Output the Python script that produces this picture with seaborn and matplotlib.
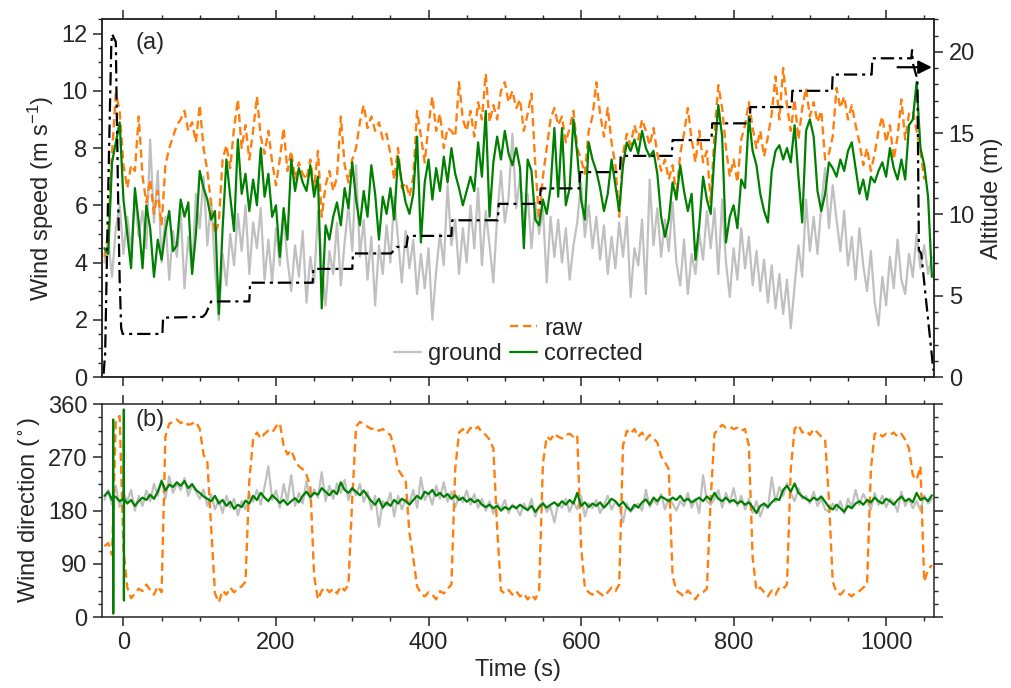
import numpy as np
import pandas as pd
import matplotlib
matplotlib.use("Agg")
import matplotlib.pyplot as plt
from matplotlib.lines import Line2D
from matplotlib.ticker import MultipleLocator
import seaborn as sns

time_s = np.arange(-25, 1061, 5)

# wind speed (m/s)
ground_speed = [
    4.0, 4.8, 3.5, 5.2, 6.0, 4.3, 5.6, 4.4, 6.3, 4.9, 5.8, 4.5, 8.3, 5.4, 7.2, 4.0, 5.6, 3.4, 5.1, 4.2,
    5.8, 3.1, 4.9, 3.7, 6.4, 5.2, 7.0, 4.6, 6.2, 3.8, 2.0, 4.3, 3.2, 5.0, 3.9, 5.7, 4.4, 6.0, 3.6, 5.4,
    4.5, 5.9, 3.4, 4.8, 3.3, 5.2, 3.9, 5.6, 4.1, 3.0, 4.6, 3.5, 5.1, 2.6, 4.2, 3.3, 5.8, 3.9, 2.5, 4.4,
    3.6, 5.4, 3.2, 4.7, 6.0, 4.4, 7.4, 4.2, 5.5, 3.4, 4.9, 2.5, 4.6, 3.6, 5.3, 4.0, 6.3, 4.8, 3.3, 5.1,
    3.8, 4.8, 2.9, 4.3, 3.1, 4.5, 2.0, 3.7, 5.0, 3.9, 6.7, 4.6, 5.5, 3.6, 5.2, 4.0, 6.0, 4.5, 6.6, 3.9,
    5.8, 4.6, 3.3, 5.6, 7.2, 5.4, 6.3, 8.5, 5.9, 7.0, 5.3, 6.4, 4.5, 6.1, 5.0, 5.9, 3.3, 5.6, 4.2, 5.5,
    4.0, 5.2, 3.4, 4.6, 5.4, 6.8, 4.9, 6.0, 4.5, 5.6, 4.1, 5.3, 3.6, 4.9, 3.8, 5.4, 4.2, 5.6, 2.8, 4.5,
    3.9, 5.5, 2.9, 6.9, 4.6, 5.9, 4.2, 5.5, 4.4, 6.1, 4.0, 3.2, 4.8, 2.9, 4.3, 3.6, 5.0, 4.1, 5.8, 4.5,
    5.9, 3.6, 6.2, 4.0, 2.8, 4.5, 3.4, 5.2, 3.8, 4.9, 3.2, 4.4, 3.0, 4.1, 2.6, 3.9, 2.4, 3.6, 2.2, 3.4,
    1.7, 3.2, 4.6, 3.5, 6.2, 4.4, 5.6, 4.3, 6.0, 7.3, 5.2, 6.7, 5.5, 4.4, 5.8, 3.9, 4.9, 3.4, 5.2, 3.9,
    3.0, 4.4, 2.6, 1.8, 3.5, 2.5, 4.2, 3.1, 4.8, 3.4, 2.9, 4.3, 3.5, 5.0, 3.8, 4.6, 3.6, 4.2,
]
raw_speed = [
    4.2, 5.0, 7.8, 9.9, 9.3, 7.4, 6.6, 7.4, 7.2, 9.1, 7.0, 6.1, 6.9, 5.7, 6.5, 5.3, 7.4, 8.0, 8.4, 8.8,
    9.0, 9.3, 8.6, 8.9, 8.2, 9.5, 8.0, 7.2, 6.0, 5.0, 5.4, 7.6, 8.1, 7.3, 8.7, 9.7, 8.0, 8.8, 7.6, 8.6,
    9.8, 8.4, 7.8, 8.6, 7.5, 6.7, 7.6, 8.7, 7.2, 7.9, 6.9, 7.5, 7.1, 6.9, 7.6, 6.6, 7.9, 5.6, 6.7, 7.2,
    6.5, 7.0, 9.1, 7.4, 6.8, 7.6, 8.0, 8.9, 9.5, 8.7, 9.1, 8.6, 8.9, 8.3, 8.5, 7.8, 6.9, 8.0, 6.6, 6.8,
    6.3, 7.0, 9.3, 8.4, 7.5, 8.8, 9.8, 8.6, 9.2, 8.0, 8.7, 8.6, 8.4, 10.3, 9.0, 8.6, 9.3, 8.4, 9.6, 9.0,
    10.6, 8.9, 9.5, 9.0, 10.0, 10.3, 9.6, 10.0, 9.4, 9.7, 8.6, 9.2, 9.9, 7.4, 5.5, 7.0, 8.0, 9.0, 9.4, 8.8,
    9.1, 8.2, 8.7, 9.3, 8.0, 7.6, 7.1, 8.6, 9.1, 10.3, 9.2, 8.4, 9.4, 8.2, 7.4, 5.6, 7.8, 8.5, 8.1, 8.8,
    8.3, 9.0, 8.6, 8.1, 8.7, 7.8, 7.2, 7.6, 6.9, 7.4, 6.3, 7.8, 8.5, 9.4, 8.3, 7.5, 8.6, 7.5, 7.9, 6.1,
    8.5, 10.2, 9.4, 8.0, 7.0, 7.6, 6.8, 8.3, 8.8, 9.6, 8.7, 8.0, 8.6, 7.7, 8.4, 9.2, 10.5, 9.0, 10.8, 9.5,
    8.6, 9.7, 8.3, 9.4, 10.1, 9.1, 9.6, 8.9, 9.3, 7.6, 7.8, 8.4, 10.1, 9.4, 9.8, 9.0, 9.5, 8.8, 8.2, 7.4,
    8.0, 7.2, 7.8, 8.6, 9.1, 8.2, 8.8, 7.6, 8.4, 9.7, 8.3, 9.2, 9.3, 8.6, 7.9, 6.9, np.nan, np.nan,
]
corrected_speed = [
    4.5, 4.3, 7.5, 8.2, 8.9, 6.2, 5.0, 3.8, 6.6, 5.4, 3.8, 6.0, 5.2, 3.5, 4.8, 4.1, 5.1, 5.8, 4.4, 4.6,
    6.2, 5.6, 6.1, 3.6, 5.0, 7.2, 6.6, 6.2, 5.5, 5.8, 2.2, 5.2, 7.6, 6.3, 5.1, 8.3, 6.4, 7.1, 5.8, 6.9,
    6.0, 8.0, 6.3, 7.1, 5.6, 6.0, 4.2, 5.9, 4.8, 7.6, 6.5, 7.3, 6.8, 6.5, 7.4, 6.3, 7.0, 2.4, 5.3, 4.8,
    5.6, 6.1, 5.3, 6.6, 5.9, 7.5, 6.2, 5.3, 6.5, 5.6, 7.4, 6.4, 4.8, 6.3, 5.7, 6.6, 5.5, 7.7, 6.8, 6.1,
    5.7, 6.4, 8.4, 4.7, 6.8, 7.6, 6.2, 7.3, 6.5, 7.7, 6.8, 8.0, 7.1, 6.6, 6.0, 6.5, 7.0, 6.5, 8.2, 7.0,
    9.3, 5.6, 7.5, 8.4, 7.6, 8.6, 7.8, 7.4, 8.0, 7.3, 4.5, 7.6, 7.2, 5.5, 5.3, 6.2, 5.7, 6.6, 8.7, 6.3,
    8.7, 6.0, 6.6, 9.0, 7.8, 6.2, 5.5, 8.2, 7.6, 7.2, 6.6, 5.8, 6.4, 7.6, 6.7, 5.8, 7.4, 8.2, 7.9, 8.3,
    7.8, 8.6, 8.0, 7.7, 7.9, 7.1, 5.6, 4.9, 5.5, 6.8, 6.2, 7.4, 6.5, 5.8, 6.4, 4.1, 5.3, 7.0, 6.2, 5.7,
    7.8, 9.5, 8.4, 4.7, 5.6, 6.0, 5.2, 6.9, 6.6, 9.1, 7.9, 7.4, 6.4, 5.8, 5.4, 7.2, 7.9, 8.1, 7.6, 8.0,
    7.5, 8.8, 7.0, 5.4, 8.6, 9.0, 8.4, 6.5, 5.8, 6.4, 7.5, 7.3, 7.0, 7.6, 7.2, 7.9, 8.2, 7.3, 6.4, 6.9,
    6.2, 7.0, 6.8, 7.2, 7.5, 7.0, 8.0, 7.3, 6.9, 7.6, 6.9, 8.8, 9.0, 10.3, 8.0, 7.4, 6.3, 3.5,
]

# wind direction (deg)
ground_dir = [
    198, 215, 190, 222, 186, 210, 196, 215, 180, 205, 188, 214, 196, 225, 205, 232, 200, 238, 210, 226,
    215, 235, 205, 224, 212, 200, 216, 188, 208, 182, 198, 176, 205, 185, 200, 172, 196, 182, 208, 195,
    215, 190, 220, 255, 198, 214, 185, 225, 196, 240, 188, 210, 192, 230, 198, 216, 202, 245, 196, 222,
    200, 226, 210, 232, 198, 218, 206, 225, 195, 212, 182, 205, 153, 196, 188, 210, 170, 205, 182, 200,
    192, 215, 185, 236, 198, 210, 190, 222, 200, 228, 195, 212, 186, 205, 194, 214, 190, 208, 185, 200,
    180, 196, 175, 192, 182, 198, 176, 190, 185, 172, 192, 180, 200, 170, 188, 195, 178, 186, 160, 192,
    185, 200, 178, 196, 182, 205, 170, 192, 184, 198, 176, 190, 205, 182, 195, 188, 160, 192, 178, 185,
    192, 180, 215, 186, 198, 190, 208, 182, 200, 192, 180, 196, 188, 210, 185, 200, 176, 240, 196, 190,
    200, 215, 185, 210, 192, 218, 188, 205, 182, 200, 176, 196, 170, 190, 184, 236, 195, 220, 205, 226,
    210, 196, 218, 200, 205, 192, 212, 188, 200, 182, 178, 192, 180, 196, 175, 200, 186, 215, 190, 208,
    196, 182, 210, 190, 205, 186, 200, 195, 178, 212, 188, 200, 184, 196, 180, 206, 192, 200,
]
raw_dir = [
    120, 125, 105, 334, 340, 115, 50, 32, 40, 48, 44, 55, 46, 38, 52, 42, 305, 327, 330, 334,
    328, 331, 325, 327, 330, 318, 275, 262, 150, 40, 25, 45, 38, 50, 42, 48, 52, 60, 230, 300,
    312, 302, 310, 315, 312, 322, 328, 290, 275, 282, 265, 255, 250, 240, 222, 70, 30, 45, 50, 42,
    48, 40, 52, 45, 55, 200, 322, 330, 326, 322, 318, 320, 315, 318, 312, 308, 285, 250, 240, 232,
    142, 100, 52, 40, 35, 42, 38, 30, 44, 40, 48, 55, 250, 312, 318, 310, 320, 316, 322, 312,
    308, 300, 285, 150, 45, 40, 46, 38, 44, 35, 40, 30, 38, 30, 45, 260, 305, 300, 310, 305,
    302, 308, 310, 305, 308, 120, 50, 42, 38, 45, 40, 35, 42, 50, 44, 55, 290, 315, 310, 318,
    305, 312, 300, 308, 302, 295, 272, 262, 250, 70, 45, 40, 35, 45, 38, 30, 40, 42, 48, 200,
    310, 318, 325, 320, 322, 318, 320, 315, 318, 290, 100, 45, 50, 42, 35, 45, 38, 50, 48, 55,
    250, 318, 325, 312, 315, 308, 318, 312, 305, 300, 200, 60, 42, 38, 45, 40, 35, 42, 44, 50,
    55, 250, 310, 312, 305, 310, 308, 312, 305, 310, 300, 285, 240, 232, 255, 60, 80, 88,
]
corrected_dir = [
    205, 212, 198, 203, 196, 200, 192, 198, 188, 196, 202, 198, 207, 200, 212, 230, 214, 224, 220, 228,
    222, 230, 218, 225, 215, 210, 204, 200, 196, 205, 192, 198, 188, 195, 183, 190, 186, 197, 192, 205,
    198, 210, 202, 196, 206, 200, 193, 198, 190, 196, 201, 194, 205, 212, 203, 210, 207, 218, 212, 206,
    214, 208, 228, 215, 210, 218, 212, 206, 214, 205, 196, 190, 200, 185, 194, 188, 198, 192, 200, 196,
    190, 198, 205, 200, 212, 208, 215, 205, 210, 203, 208, 200, 206, 198, 202, 195, 200, 194, 198, 190,
    186, 190, 184, 188, 180, 186, 182, 188, 184, 190, 185, 181, 188, 178, 186, 192, 185, 190, 194, 188,
    196, 190, 198, 192, 210, 188, 194, 186, 192, 188, 194, 185, 192, 200, 196, 188, 195, 186, 180, 190,
    185, 194, 199, 190, 202, 196, 204, 200, 196, 202, 198, 205, 196, 200, 194, 198, 202, 196, 204, 198,
    210, 200, 196, 202, 195, 198, 192, 196, 190, 194, 186, 176, 188, 192, 186, 194, 200, 198, 215, 222,
    212, 226, 210, 204, 200, 196, 202, 198, 204, 195, 186, 182, 190, 184, 178, 188, 184, 192, 196, 190,
    198, 194, 202, 196, 192, 200, 196, 190, 198, 204, 196, 200, 194, 210, 198, 202, 196, 206,
]
# wrap-around jumps of the corrected direction at take-off
wrap_time = [-13.7, -13.5, -13.4, -13.2, 0.3, 0.5, 0.6, 0.8]
wrap_dir = [205, 334, 6, 205, 200, 351, 28, 200]

# altitude of the sensor (m)
alt_time = [-26, -24, -21, -18, -16, -15, -13, -10, -9, -7, -5, -3, -1,
            51, 52, 104, 108, 115, 165, 166, 248, 249, 300, 301, 351, 358, 371,
            373, 430, 431, 491, 492, 546, 547, 598, 599, 651, 652, 719, 720,
            771, 772, 821, 822, 876, 877, 929, 930, 981, 982, 1033, 1034, 1035,
            1041, 1043, 1046, 1062]
alt_m = [0.2, 1.5, 9.0, 16.0, 20.3, 21.1, 20.9, 20.6, 17.0, 11.0, 6.0, 3.0, 2.65,
         2.65, 3.65, 3.7, 3.9, 4.65, 4.65, 5.8, 5.8, 6.65, 6.65, 7.6, 7.6, 8.0, 8.0,
         8.68, 8.68, 9.64, 9.64, 10.65, 10.65, 11.6, 11.6, 12.6, 12.6, 13.6, 13.6, 14.57,
         14.57, 15.6, 15.6, 16.6, 16.6, 17.6, 17.6, 18.6, 18.6, 19.6, 19.6, 20.1, 19.3,
         18.3, 7.8, 7.6, 0.4]

for series in (ground_speed, raw_speed, corrected_speed, ground_dir, raw_dir, corrected_dir):
    assert len(series) == len(time_s)

speed_df = pd.DataFrame({"time": time_s, "ground": ground_speed,
                         "raw": raw_speed, "corrected": corrected_speed})
dir_df = pd.DataFrame({"time": time_s, "ground": ground_dir, "raw": raw_dir})
corr_dir_df = pd.concat([pd.DataFrame({"time": time_s, "dir": corrected_dir}),
                         pd.DataFrame({"time": wrap_time, "dir": wrap_dir})])
corr_dir_df = corr_dir_df.sort_values("time", kind="stable")
alt_df = pd.DataFrame({"time": alt_time, "alt": alt_m})

fs = 17
sns.set_theme(style="ticks", rc={
    "font.size": fs, "axes.labelsize": fs, "xtick.labelsize": fs,
    "ytick.labelsize": fs, "legend.fontsize": fs, "axes.linewidth": 1.1,
})
plt.rcParams["font.family"] = ["Liberation Sans", "DejaVu Sans"]
plt.rcParams["mathtext.default"] = "regular"

c_ground = "#c0c0c0"
c_raw = "#ff7f0e"
c_corr = "#008000"
raw_ls = (0, (3.5, 2))

fig = plt.figure(figsize=(10.11, 6.88), dpi=100)
ax1 = fig.add_axes([0.101, 0.452, 0.823, 0.520])
ax2 = fig.add_axes([0.101, 0.103, 0.823, 0.3096], sharex=ax1)

# panel (a): wind speed
sns.lineplot(data=speed_df, x="time", y="ground", color=c_ground, lw=1.6,
             ax=ax1, zorder=2, legend=False)
sns.lineplot(data=speed_df, x="time", y="raw", color=c_raw, lw=1.7, linestyle=raw_ls,
             ax=ax1, zorder=3, legend=False)
sns.lineplot(data=speed_df, x="time", y="corrected", color=c_corr, lw=1.6,
             ax=ax1, zorder=4, legend=False)

ax1b = ax1.twinx()
sns.lineplot(data=alt_df, x="time", y="alt", color="black", lw=1.6, sort=False,
             linestyle=(0, (6, 2.2, 1.4, 2.2)), ax=ax1b, legend=False)
ax1b.annotate("", xy=(1060, 19.05), xytext=(1015, 19.05),
              arrowprops=dict(arrowstyle="-|>", color="black", lw=1.6,
                              mutation_scale=20, shrinkA=0, shrinkB=0))

ax1.set_xlim(-28, 1063)
ax1.set_ylim(0, 12.5)
ax1.set_yticks(range(0, 13, 2))
ax1.yaxis.set_minor_locator(MultipleLocator(0.5))
ax1.xaxis.set_minor_locator(MultipleLocator(50))
ax1.set_ylabel("Wind speed (m s$^{-1}$)")
ax1.set_xlabel("")
ax1.tick_params(which="both", direction="out", top=True, labelbottom=False)
ax1.text(0.04, 0.965, "(a)", transform=ax1.transAxes, ha="left", va="top")

ax1b.set_ylim(0, 22)
ax1b.set_yticks(range(0, 21, 5))
ax1b.yaxis.set_minor_locator(MultipleLocator(1))
ax1b.set_ylabel("Altitude (m)")
ax1b.tick_params(which="both", direction="out")

handles = [Line2D([], [], alpha=0),
           Line2D([], [], color=c_ground, lw=1.6),
           Line2D([], [], color=c_raw, lw=1.7, linestyle=raw_ls),
           Line2D([], [], color=c_corr, lw=1.6)]
labels = ["", "ground", "raw", "corrected"]
ax1.legend(handles, labels, ncol=2, frameon=False, loc="lower center",
           bbox_to_anchor=(0.5, 0.0), borderaxespad=0.1, handlelength=1.15,
           handletextpad=0.3, columnspacing=0.35, labelspacing=0.15)

# panel (b): wind direction
sns.lineplot(data=dir_df, x="time", y="ground", color=c_ground, lw=1.6,
             ax=ax2, zorder=2, legend=False)
sns.lineplot(data=dir_df, x="time", y="raw", color=c_raw, lw=1.7, linestyle=raw_ls,
             ax=ax2, zorder=3, legend=False)
sns.lineplot(data=corr_dir_df, x="time", y="dir", color=c_corr, lw=1.6, sort=False,
             ax=ax2, zorder=4, legend=False)

ax2.set_ylim(0, 360)
ax2.set_yticks(range(0, 361, 90))
ax2.yaxis.set_minor_locator(MultipleLocator(22.5))
ax2.set_xticks(range(0, 1001, 200))
ax2.xaxis.set_minor_locator(MultipleLocator(50))
ax2.set_xlim(-28, 1063)
ax2.set_ylabel("Wind direction ($^\\circ$)")
ax2.set_xlabel("Time (s)")
ax2.tick_params(which="both", direction="out", top=True, right=True)
ax2.text(0.04, 0.975, "(b)", transform=ax2.transAxes, ha="left", va="top")

for ax in (ax1, ax1b, ax2):
    ax.tick_params(which="major", length=6.5, width=1.1, pad=4)
    ax.tick_params(which="minor", length=3.2, width=1.0)
    for sp in ax.spines.values():
        sp.set_visible(True)
        sp.set_linewidth(1.1)

fig.align_ylabels([ax1, ax2])
fig.savefig("out.png", dpi=100)
